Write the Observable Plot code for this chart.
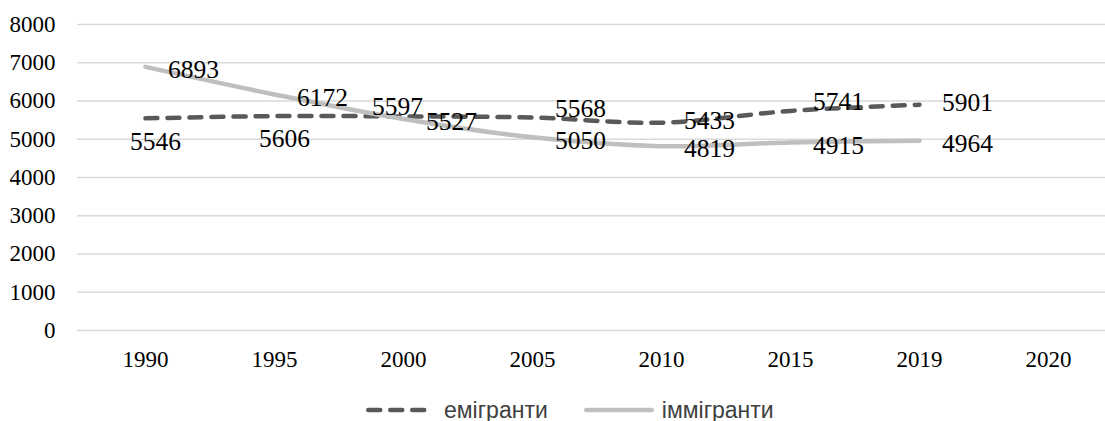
<!DOCTYPE html>
<html>
<head>
<meta charset="utf-8">
<script src="https://cdn.jsdelivr.net/npm/d3@7"></script>
<script src="https://cdn.jsdelivr.net/npm/@observablehq/plot@0.6"></script>
<style>
  body { margin: 0; background: #fff; }
  #chart svg { display: block; }
  #legend { display: flex; align-items: center; height: 36px; padding-left: 366px; gap: 36px;
            font-family: "Liberation Sans", Arial, sans-serif; font-size: 23px; color: #404040; }
  #legend .item { display: flex; align-items: center; gap: 8px; }
  #legend svg { display: block; }
</style>
</head>
<body>
<div id="chart"></div>
<div id="legend"></div>
<script>
// ---- data ----
const categories = ["1990", "1995", "2000", "2005", "2010", "2015", "2019", "2020"];
const dataYears = ["1990", "1995", "2000", "2005", "2010", "2015", "2019"];
const emigrants = [5546, 5606, 5597, 5568, 5433, 5741, 5901];
const immigrants = [6893, 6172, 5527, 5050, 4819, 4915, 4964];
const seriesNames = ["емігранти", "іммігранти"];
const yTicks = [0, 1000, 2000, 3000, 4000, 5000, 6000, 7000, 8000];
// data-label placement (like Excel label positions)
const emiLabelPlacement = ["below", "below", "above", "aboveRight", "right", "aboveRight", "right"];
const immLabelPlacement = ["rightLow", "rightLow", "rightLow", "rightLow", "rightLow", "rightLow", "rightLow"];

// ---- styles ----
const serif = "'Liberation Serif', 'Times New Roman', serif";
const seriesStyle = {
  "емігранти": { stroke: "#595959", dash: "12 10" },
  "іммігранти": { stroke: "#bfbfbf", dash: null }
};
const placementOffsets = {
  below: [10, 23],
  above: [-6, -10],
  aboveRight: [48, -9],
  right: [48, -1.5],
  rightLow: [48, 3]
};

const rows = [];
dataYears.forEach((yr, i) => {
  rows.push({ year: yr, value: emigrants[i], series: seriesNames[0], place: emiLabelPlacement[i] });
  rows.push({ year: yr, value: immigrants[i], series: seriesNames[1], place: immLabelPlacement[i] });
});

const lineMarks = seriesNames.map(name => Plot.line(rows.filter(d => d.series === name), {
  x: "year", y: "value",
  stroke: seriesStyle[name].stroke,
  strokeWidth: 4.5,
  strokeLinecap: "round",
  strokeLinejoin: "round",
  strokeDasharray: seriesStyle[name].dash,
  curve: "catmull-rom"
}));

const labelMarks = Object.entries(placementOffsets).map(([p, [dx, dy]]) =>
  Plot.text(rows.filter(d => d.place === p), {
    x: "year", y: "value", text: d => String(d.value),
    dx, dy, fontSize: 25.5, fill: "#000", fontFamily: serif
  })
);

const chart = Plot.plot({
  width: 1105,
  height: 392,
  marginLeft: 77,
  marginRight: 0,
  marginTop: 24,
  marginBottom: 62,
  style: { fontFamily: serif, fontSize: "23px", background: "#fff", color: "#000", overflow: "visible" },
  x: { type: "point", domain: categories, range: [77, 1115], padding: 0.5 },
  y: { domain: [0, 8000] },
  marks: [
    Plot.ruleY(yTicks, { stroke: "#d9d9d9", strokeWidth: 1.3 }),
    Plot.axisY({ ticks: yTicks, tickSize: 0, tickPadding: 22, tickFormat: d => String(d), label: null, fontFamily: serif }),
    Plot.axisX({ tickSize: 0, tickPadding: 20, label: null, fontFamily: serif }),
    ...lineMarks,
    ...labelMarks
  ]
});
document.getElementById("chart").appendChild(chart);

// ---- legend ----
const legend = d3.select("#legend");
seriesNames.forEach(name => {
  const item = legend.append("div").attr("class", "item");
  const svg = item.append("svg").attr("width", 70).attr("height", 10);
  svg.append("line")
    .attr("x1", 2.25).attr("x2", 67.75).attr("y1", 5).attr("y2", 5)
    .attr("stroke", seriesStyle[name].stroke)
    .attr("stroke-width", 4.5)
    .attr("stroke-linecap", "round")
    .attr("stroke-dasharray", seriesStyle[name].dash);
  item.append("span").text(name);
});
</script>
</body>
</html>
